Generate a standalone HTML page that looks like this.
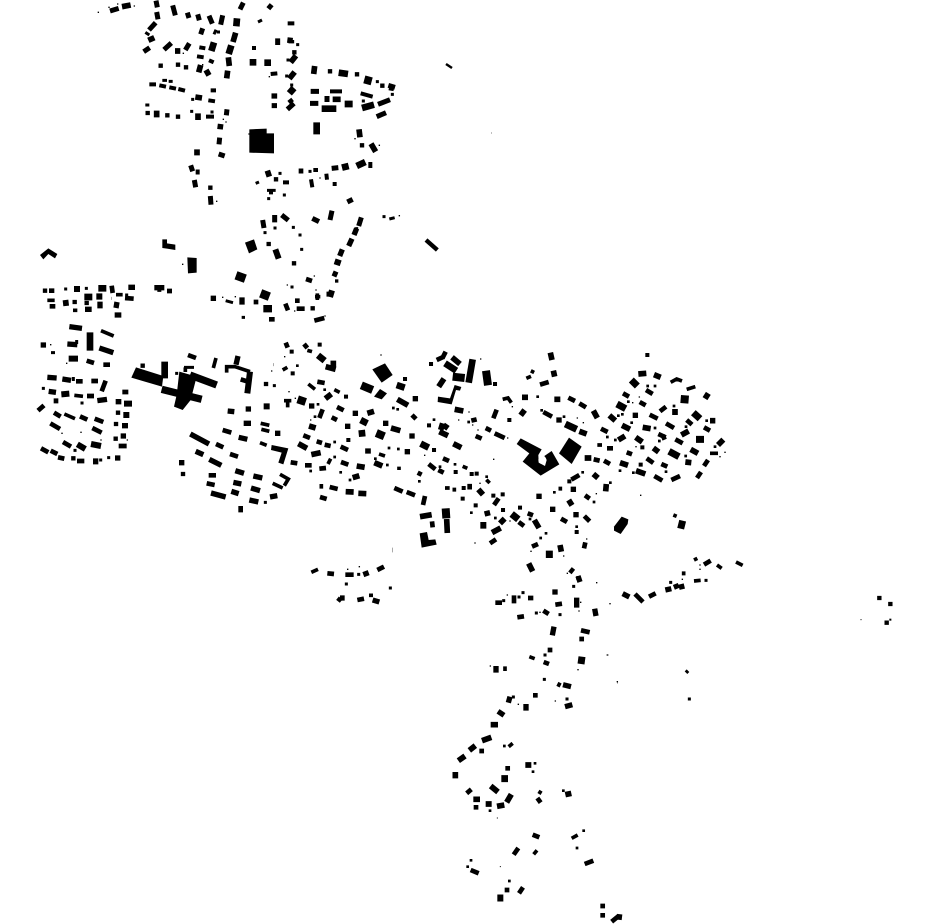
<!DOCTYPE html>
<html><head><meta charset="utf-8"><style>
html,body{margin:0;padding:0;background:#fff}
svg{display:block}
.l path{fill:none;stroke:#000}
.d path{fill:none;stroke:#000;stroke-linecap:square}
polygon{fill:#000}
</style></head><body>
<svg width="930" height="924" viewBox="0 0 930 924" xmlns="http://www.w3.org/2000/svg">
<rect width="930" height="924" fill="#fff"/>
<!-- crop 1 -->
<g transform="translate(30,0) scale(.33333)">
<polygon points="658,388 710,386 710,400 732,400 732,460 658,458"/>
<g class="l">
<path stroke-width="9" d="M346 315h12M397 241h14M416 244h12M552 103l6-14M560 96h10M677 550l10-4M711 571h26M1078 657l16-4M684 66l12-6M346 97l12 8"/>
<path stroke-width="12" d="M358 253h20M388 256l20 4M418 262l20 4M915 274h1M900 274h36M992 280l36 10M535 301l20 3M528 350h24M501 169l20 3M537 181l14 6M722 222l20-2M908 552h12M843 538l4 24M1021 486v18M850 510h14M889 521l2 18M759 547h18M723 571v12M445 267l20 5M542 271h16M773 70h20M666 144h12M508 142l18 3"/>
<path stroke-width="15" d="M240 33l26-8M378 2l4 20M380 36l4 22M428 16l8 30M472 38l5 16M503 43l5 18M537 47l10 24M578 46l-6 28M640 8l-10 20M725 14l-10 12M518 85l-6 18M357 90l20-22M341 155l18-12M402 149l22-20M466 150l12-20M743 115v20M842 274h25M725 317h16M772 328l20-18M778 298l8 10M840 310h25M891 288v18M591 328l-2 18M569 413l-2 20M566 462l18 6M497 516h12M541 588l2 26M806 513h14M905 505l20-2M1075 256l20 6M1085 260l-2 12M952 606l16-8M698 660l4 24M734 645v22M755 645l20 16M847 655l20 10M906 632l-6 28M994 652l-8 26M493 540l4 22M482 496l6 18M1040 350l28-12M1044 313l36-14"/>
<path stroke-width="17" d="M276 20l26-5M617 98l-8 28M355 121l18-8M435 153h16M772 120l16 2M784 120v10M782 187l16-20M595 172l3 26M506 217l6-22M528 210l9 16M593 212l-3 23M778 236l16-20M854 198l-3 24M733 280v16M496 291l20 3M908 298h24M380 332v20M504 340v20M712 512l6 18M1023 431l14 24M572 372l-2 16M501 448v18M987 388l3 24"/>
<path stroke-width="20" d="M621 55l-2 24M544 153l8-26M604 136l-8 26M659 187h20M703 188h20M926 218l28 4M778 280l14-16M875 326h44M996 324l36-10M944 312h24M860 367v36M980 498l26-12M936 503l20-5"/>
<path stroke-width="24" d="M1003 238l22 6"/>
</g>
<g class="d">
<path stroke-width="4" d="M205 37h.1M237 22h.1M263 12h.1M313 18h.1M460 160h.1M518 194h.1M580 358h.1M588 366h.1M560 604h.1M870 534h.1M1048 436h.1M975 416h.1M657 402h.1M718 230h.1M1108 647h.1"/>
<path stroke-width="9" d="M1042 245h.1M803 134h.1M1087 283h.1M488 298h.1M485 334h.1M546 336h.1M774 180h.1M770 228h.1M785 255h.1M750 520h.1M716 596h.1M763 585h.1M840 514h.1M1062 650h.1M1000 303h.1M735 684h.1M980 686h.1M790 682h.1"/>
<path stroke-width="13" d="M392 197h.1M444 194h.1M468 202h.1M793 157h.1M996 436h.1M738 538h.1M541 563h.1M1057 257h.1M353 339h.1M412 346h.1M444 350h.1M900 214h.1M981 223h.1"/>
</g>
</g>
<!-- crop 2 -->
<g transform="translate(30,230) scale(.33333)">
<polygon points="30,75 55,55 82,72 75,85 55,72 40,88"/>
<polygon points="397,28 411,28 411,40 436,44 436,60 411,56 397,54"/>
<polygon points="472,82 500,84 500,128 474,130"/>
<polygon points="645,38 672,28 682,58 657,70"/>
<polygon points="725,645 775,655 760,703 745,698 755,668 723,660"/>
<polygon points="318,412 400,438 396,470 304,443"/>
<polygon points="448,425 500,440 482,510 458,540 432,530 440,495"/>
<g class="l">
<path stroke-width="9" d="M462 412h30M730 404h1M130 441v12M63 368h12M635 262h10M587 212l22 6M140 330v12M245 205h1"/>
<path stroke-width="11" d="M590 428v-18h25l45 15M750 733l25 14l-12 20M728 760l30 14M692 580l26 6M694 598l24 6M690 638l20 8M855 200h16M862 190v20M895 185v15M52 211h22M258 194h20M129 241h13M382 180h12M103 552l32 14M213 302l38 16M466 412v14M558 384l-8 30M133 496l26 3"/>
<path stroke-width="14" d="M766 221l8 20M828 147l18 6M802 205v14M800 236h24M717 268h17M853 272l30-8M678 209v14M57 182h16M245 167l3 22M285 204l26 2M59 229h17M170 392l22 7M220 404h20M138 454h20M184 453h20M227 452l-12 32M78 505v15M277 486h18M171 498h21M194 566l26 10M61 580l29 17M99 636l24 14M33 655l22 12M62 662l20 10M84 682l19 4M141 693h22M266 648h24M536 736h22M530 760l24 5M632 828v19M578 600l26 8M558 642l22 10M600 672l24 8M411 183h15M474 375l24 9M632 448l20 6M150 559l22 10M72 548l20 12M24 542l18-16M187 594l28 14"/>
<path stroke-width="16" d="M52 442l28 2M97 447l26 4M210 215v20M261 216l-3 18M254 255h20M165 238h20M295 172h20M118 290l38 5M112 342l30 2M208 354l42 14M624 378l-6 26M202 512l29-4M257 515h17M276 587h18M626 622l26 6M593 543l20 2M497 664l23 10M481 612l56 30M538 688l36 18M616 722l26 8M670 738l27 6M610 757l24 5M663 774l27 8M543 789l44 12M604 784l22 7M658 810l27 6M720 801l22-4M197 685v18M373 173h30M56 484l22 3M641 580h22"/>
<path stroke-width="18" d="M141 168v18M208 190v19M99 220l17-2M94 493l24-2M282 521h24M280 555h18M142 643l24 14M183 642l30 6M116 386h28M701 529h18M660 425l-8 65M736 58l10 28"/>
<path stroke-width="20" d="M205 175h24M163 201h24M180 307v55M404 395v50"/>
<path stroke-width="22" d="M480 435l80 30M395 478l120 30M700 236h26M628 213h16"/>
<path stroke-width="26" d="M618 136l28 10M692 190l26 10"/>
</g>
<g class="d">
<path stroke-width="4" d="M62 344h.1M110 400h.1M153 607h.1M96 610h.1M213 630h.1M292 630h.1M725 423h.1M578 202h.1M772 165h.1M858 180h.1M885 258h.1M853 138h.1M794 243h.1M616 200h.1M458 103h.1"/>
<path stroke-width="9" d="M40 475h.1M290 195h.1M135 661h.1M212 690h.1M236 683h.1M706 817h.1M440 430h.1M786 171h.1M815 58h.1M810 15h.1M705 8h.1M733 467h.1M156 519h.1M169 175h.1M107 177h.1"/>
<path stroke-width="13" d="M45 182h.1M134 216h.1M170 219h.1M338 407h.1M264 548h.1M258 582h.1M257 626h.1M130 685h.1M459 732h.1M792 100h.1M848 235h.1M708 462h.1M716 42h.1"/>
<path stroke-width="16" d="M40 345h.1M263 684h.1M550 205h.1M743 610h.1M455 698h.1M655 537h.1M280 618h.1"/>
</g>
</g>
<!-- crop 3 -->
<g transform="translate(280,340) scale(.33333)">
<polygon points="277,88 315,70 338,105 305,128"/>
<polygon points="282,170 300,147 321,160 305,178"/>
<polygon points="474,170 510,175 524,135 544,141 540,152 528,150 515,193 473,186"/>
<polygon points="419,580 441,576 446,600 466,598 470,614 425,623"/>
<g class="l">
<path stroke-width="11" d="M82 31l14 4M8 90l14-8M12 182h22M23 182v20M85 132l20 16M163 149l16 8M152 356l-8 16M297 342l18 6M357 380v10M124 432v14M548 379l14 6M495 444h14M523 443v12M619 419l10 10"/>
<path stroke-width="14" d="M17 8l6 15M72 12l10 12M470 60l22-10M497 35l-10 20M112 125l22 4M171 201l20 10M155 232l16 8M70 286l20 8M110 304l16 5M134 314l18 4M182 320l22 10M32 367l20 3M75 376h20M118 386l20-2M183 366l22 8M149 441l24 6M120 471l20 6M343 444l25 11M380 456l25 10M435 468l-6 27M413 398l12 6M489 355l18 8M475 390l16 8M446 372l20 16M396 225l12 12M574 242l16-4M617 264l16 8M587 288l18 8M128 208l-10 26M456 544l2 18"/>
<path stroke-width="17" d="M136 176l18-14M262 220l20-6M87 258l20 6M55 311l26 14M333 264l28 8M94 344l28-6M283 368l24 10M197 455l24 1M235 460l24 1M230 378l24 4M218 413l20-6M264 325v16M420 530l35-6M500 537l2 42M476 140l16-24M516 52l24 20M352 178l32 18M524 208l26 5M488 250l-6 20M478 275l26 12M490 255l14 10M520 311l24 12M595 448l14 16M562 440h14M620 512l4 16M137 80l30 8M160 62v18"/>
<path stroke-width="20" d="M114 46l20 16M242 240l20 10M245 270l2 20M422 311l24 12M495 70l34 22M578 58l-12 70M350 135l24 8M601 556h18"/>
<path stroke-width="24" d="M53 178l24 8M244 136l34 14M518 110l36 4M618 92l6 44M289 279l24 10M497 505l2 30"/>
</g>
<g class="d">
<path stroke-width="4" d="M303 45h.1M14 50h.1M27 155h.1M92 240h.1M434 346h.1M567 216h.1M536 240h.1M578 255h.1M594 270h.1M600 430h.1M585 609h.1M46 175h.1M602 57h.1"/>
<path stroke-width="8" d="M52 77h.1M134 149h.1M114 193h.1M105 230h.1M340 204h.1M353 208h.1M462 239h.1M164 306h.1M164 351h.1M327 324h.1M355 327h.1M286 356h.1M322 375h.1M92 393h.1M182 397h.1M210 420h.1M418 424h.1M525 373h.1M566 246h.1M480 380h.1M620 410h.1M574 518h.1"/>
<path stroke-width="12" d="M35 35h.1M119 14h.1M375 117h.1M198 170h.1M205 300h.1M453 72h.1M447 256h.1M462 330h.1M527 396h.1M548 476h.1M587 496h.1M575 402h.1M590 401h.1M551 444h.1M38 100h.1M645 132h.1"/>
<path stroke-width="16" d="M95 198h.1M226 220h.1M203 259h.1M317 250h.1M396 288h.1M382 335h.1M406 176h.1"/>
</g>
</g>
<!-- crop 4 -->
<g transform="translate(490,340) scale(.33333)">
<polygon points="80,312 92,295 155,328 145,345 146,368 165,378 170,360 163,348 185,333 208,373 152,407 98,365 118,340"/>
<polygon points="207,340 237,293 275,320 245,372"/>
<polygon points="395,530 415,538 413,552 392,582 372,572 372,560"/>
<g class="l">
<path stroke-width="11" d="M38 178l16-4l10 14M130 90l-5 10M109 115l14-6M542 127l18-10l16 6M590 148l26-8M322 315h14M660 340h24M211 440v12M550 525l10 4"/>
<path stroke-width="14" d="M235 173l20 10M268 190l20 12M150 134l26-8M160 216l26 14M14 280l30 14M311 358l18 4M342 362l18 10M244 419l24-14M285 466l14 10M213 536l18 10M283 528l16 16M282 625l4-18M126 620l18-8M351 325h18M86 546l16 12M113 520l16 6M12 495l14-20M479 224l24 12M528 250l24 14M505 282l22 10M518 285l6 14M556 298l22 12M642 262l18 10M590 240l16 14M654 360l-12 18M633 396l-12 18M493 408l24 14M544 420l26-12M514 372l18 8M470 355l20 14M333 266l20 10M449 186l18 10M410 337l16 6M468 150l20 12M399 160l18 10M510 214l18-14M0 610l18-12M10 235l10-26"/>
<path stroke-width="17" d="M181 38l5 22M190 92l4 18M193 178h18M92 226l12-16M310 212l12 22M268 274l22 8M284 354h20M310 402l14 12M349 432l-2 22M236 480l10 16M210 615l4 20M116 670l12 24M240 688l10 8M133 540l14 24M30 550l14-14M6 578l26-14M445 102l24-2M492 104l20 8M358 226l18 16M396 256l24 12M385 300l20-12M437 292l20 14M555 207v18M490 324l16 12M574 285l22-12M602 328l22 12M586 366l18 2M684 315l16-16M655 160l-10 16M438 392l28 10M390 368l24 8M458 262l24 4M660 242h16M96 172h18"/>
<path stroke-width="21" d="M65 522l20 16M226 252l34 16M424 120l18 18M381 192l26 14M610 218l20 18M618 298h24M537 334l30 16M178 632v22M578 542l-6 24"/>
<path stroke-width="24" d="M572 177l24 2"/>
</g>
<g class="d">
<path stroke-width="4" d="M11 358h.1M452 466h.1M262 234h.1M280 248h.1M319 461h.1M53 294h.1M67 200h.1M448 171h.1M428 188h.1M705 337h.1M690 350h.1M438 320h.1M60 543h.1M123 634h.1M232 700h.1M221 648h.1M290 597h.1"/>
<path stroke-width="8" d="M127 95h.1M143 170h.1M155 211h.1M207 240h.1M222 230h.1M278 397h.1M361 428h.1M312 486h.1M193 457h.1M260 560h.1M152 594h.1M120 537h.1M473 138h.1M495 138h.1M415 185h.1M385 227h.1M397 223h.1M352 291h.1M376 300h.1M495 264h.1M552 198h.1M508 303h.1M588 260h.1M650 242h.1M675 320h.1M587 348h.1M528 395h.1M430 398h.1M390 392h.1M168 580h.1M16 534h.1M425 248h.1"/>
<path stroke-width="12" d="M472 45h.1M238 424h.1M38 463h.1M10 467h.1M39 510h.1M90 503h.1M265 714h.1M260 576h.1M457 322h.1M58 240h.1M452 374h.1"/>
<path stroke-width="16" d="M250 448h.1M147 469h.1M188 508h.1M258 524h.1M436 226h.1M207 240h.1"/>
</g>
<circle cx="157" cy="360" r="12" fill="#fff"/>
</g>
<!-- crop 5 -->
<g transform="translate(300,550) scale(.33333)">
<g class="l">
<path stroke-width="11" d="M34 67l20-9M207 136h12M1151 64v12M1182 93l20-2M1308 36l20 10M688 320l16 6M615 349v14M780 398l-6 12M1158 368l6-6M1251 45l14 10M1182 30l10-5"/>
<path stroke-width="14" d="M82 70l20 2M136 74h25M232 60l20-10M114 154l8-10M172 150l20-4M586 158h20M652 202l20-3M766 164l20-3M730 182l16 10M642 136v24M1005 132l24 24M1047 140l20-10M1212 44l20-12M843 241l26 6M731 336l16 6M278 0h1"/>
<path stroke-width="16" d="M218 150l20 6M120 144h14M190 74l16-6M692 137v14M765 118v16M834 78l6 18M830 143v30M884 176l4 22M968 131l20 10M1096 120l18-4M1126 102l6 14M1137 112l16-4M762 230l-5 26M588 348v20M789 404l24 6M795 470l22-6M625 458l5-18M678 462v20M594 484l18 12"/>
<path stroke-width="21" d="M846 320l-3 22"/>
</g>
<g class="d">
<path stroke-width="4" d="M143 58h.1M178 50h.1M622 135h.1M720 187h.1M842 157h.1M837 183h.1M890 98h.1M930 161h.1M1147 88h.1M1200 45h.1M1200 58h.1M834 359h.1M923 315h.1M952 395h.1M571 348h.1M766 453h.1M655 463h.1"/>
<path stroke-width="9" d="M176 73h.1M611 152h.1M657 141h.1M669 128h.1M709 189h.1M780 194h.1M821 109h.1M1112 97h.1M1218 91h.1M139 102h.1M271 114h.1M1168 447h.1M801 447h.1M640 441h.1M735 315h.1M733 388h.1"/>
<path stroke-width="14" d="M845 267h.1M750 300h.1M706 436h.1"/>
</g>
</g>
<!-- crop 6 -->
<g transform="translate(440,720) scale(.33333)">
<g class="l">
<path stroke-width="11" d="M206 80l12-10M303 212l-6 10M281 403l10-12M395 355l18-10"/>
<path stroke-width="14" d="M80 220l14-12M278 344l20 8M434 432l26-10M237 520l12-18M92 450l24 10M221 404l14-20M292 234l10 14M515 605l22-18"/>
<path stroke-width="17" d="M152 14h22M126 62l28-10M88 91l18-14M55 122l20-14M46 156v19M152 198l22 18M100 238h20M200 247l14-24M137 252h18M171 259l22-4M256 135h18M376 224l18-4M530 590l16 2"/>
<path stroke-width="21" d="M184 176h20M172 534h18"/>
</g>
<g class="d">
<path stroke-width="3" d="M172 294h.1M181 440h.1"/>
<path stroke-width="8" d="M193 78h.1M150 272h.1M285 130h.1M279 155h.1M370 212h.1M431 332h.1M411 384h.1M83 440h.1M208 483h.1M93 421h.1"/>
<path stroke-width="14" d="M125 93h.1M203 145h.1M108 262h.1M201 510h.1M488 558h.1M488 586h.1"/>
</g>
</g>
<!-- crop 7 -->
<g transform="translate(320,190) scale(.33333)">
<g class="l">
<path stroke-width="13" d="M318 150l34 30"/>
<path stroke-width="16" d="M110 115l-8 20M96 146l-10 22M67 178l-8 20M38 249l14 6"/>
<path stroke-width="18" d="M44 214l18 6M36 301l-6 20"/>
</g>
<g class="d"><path stroke-width="10" d="M50 273h.1"/></g>
</g>
<!-- crop 8 -->
<g transform="translate(850,585) scale(.33333)">
<g class="d">
<path stroke-width="3" d="M33 104h.1"/>
<path stroke-width="6" d="M121 104h.1"/>
<path stroke-width="13" d="M88 39h.1M121 57h.1M110 113h.1"/>
</g>
</g>
<g class="l">
<path stroke-width="2.5" d="M446 64l6 4"/>
<path stroke-width=".6" d="M491 133h1M617 683h1M606 655h1"/>
</g>
</svg>
</body></html>
